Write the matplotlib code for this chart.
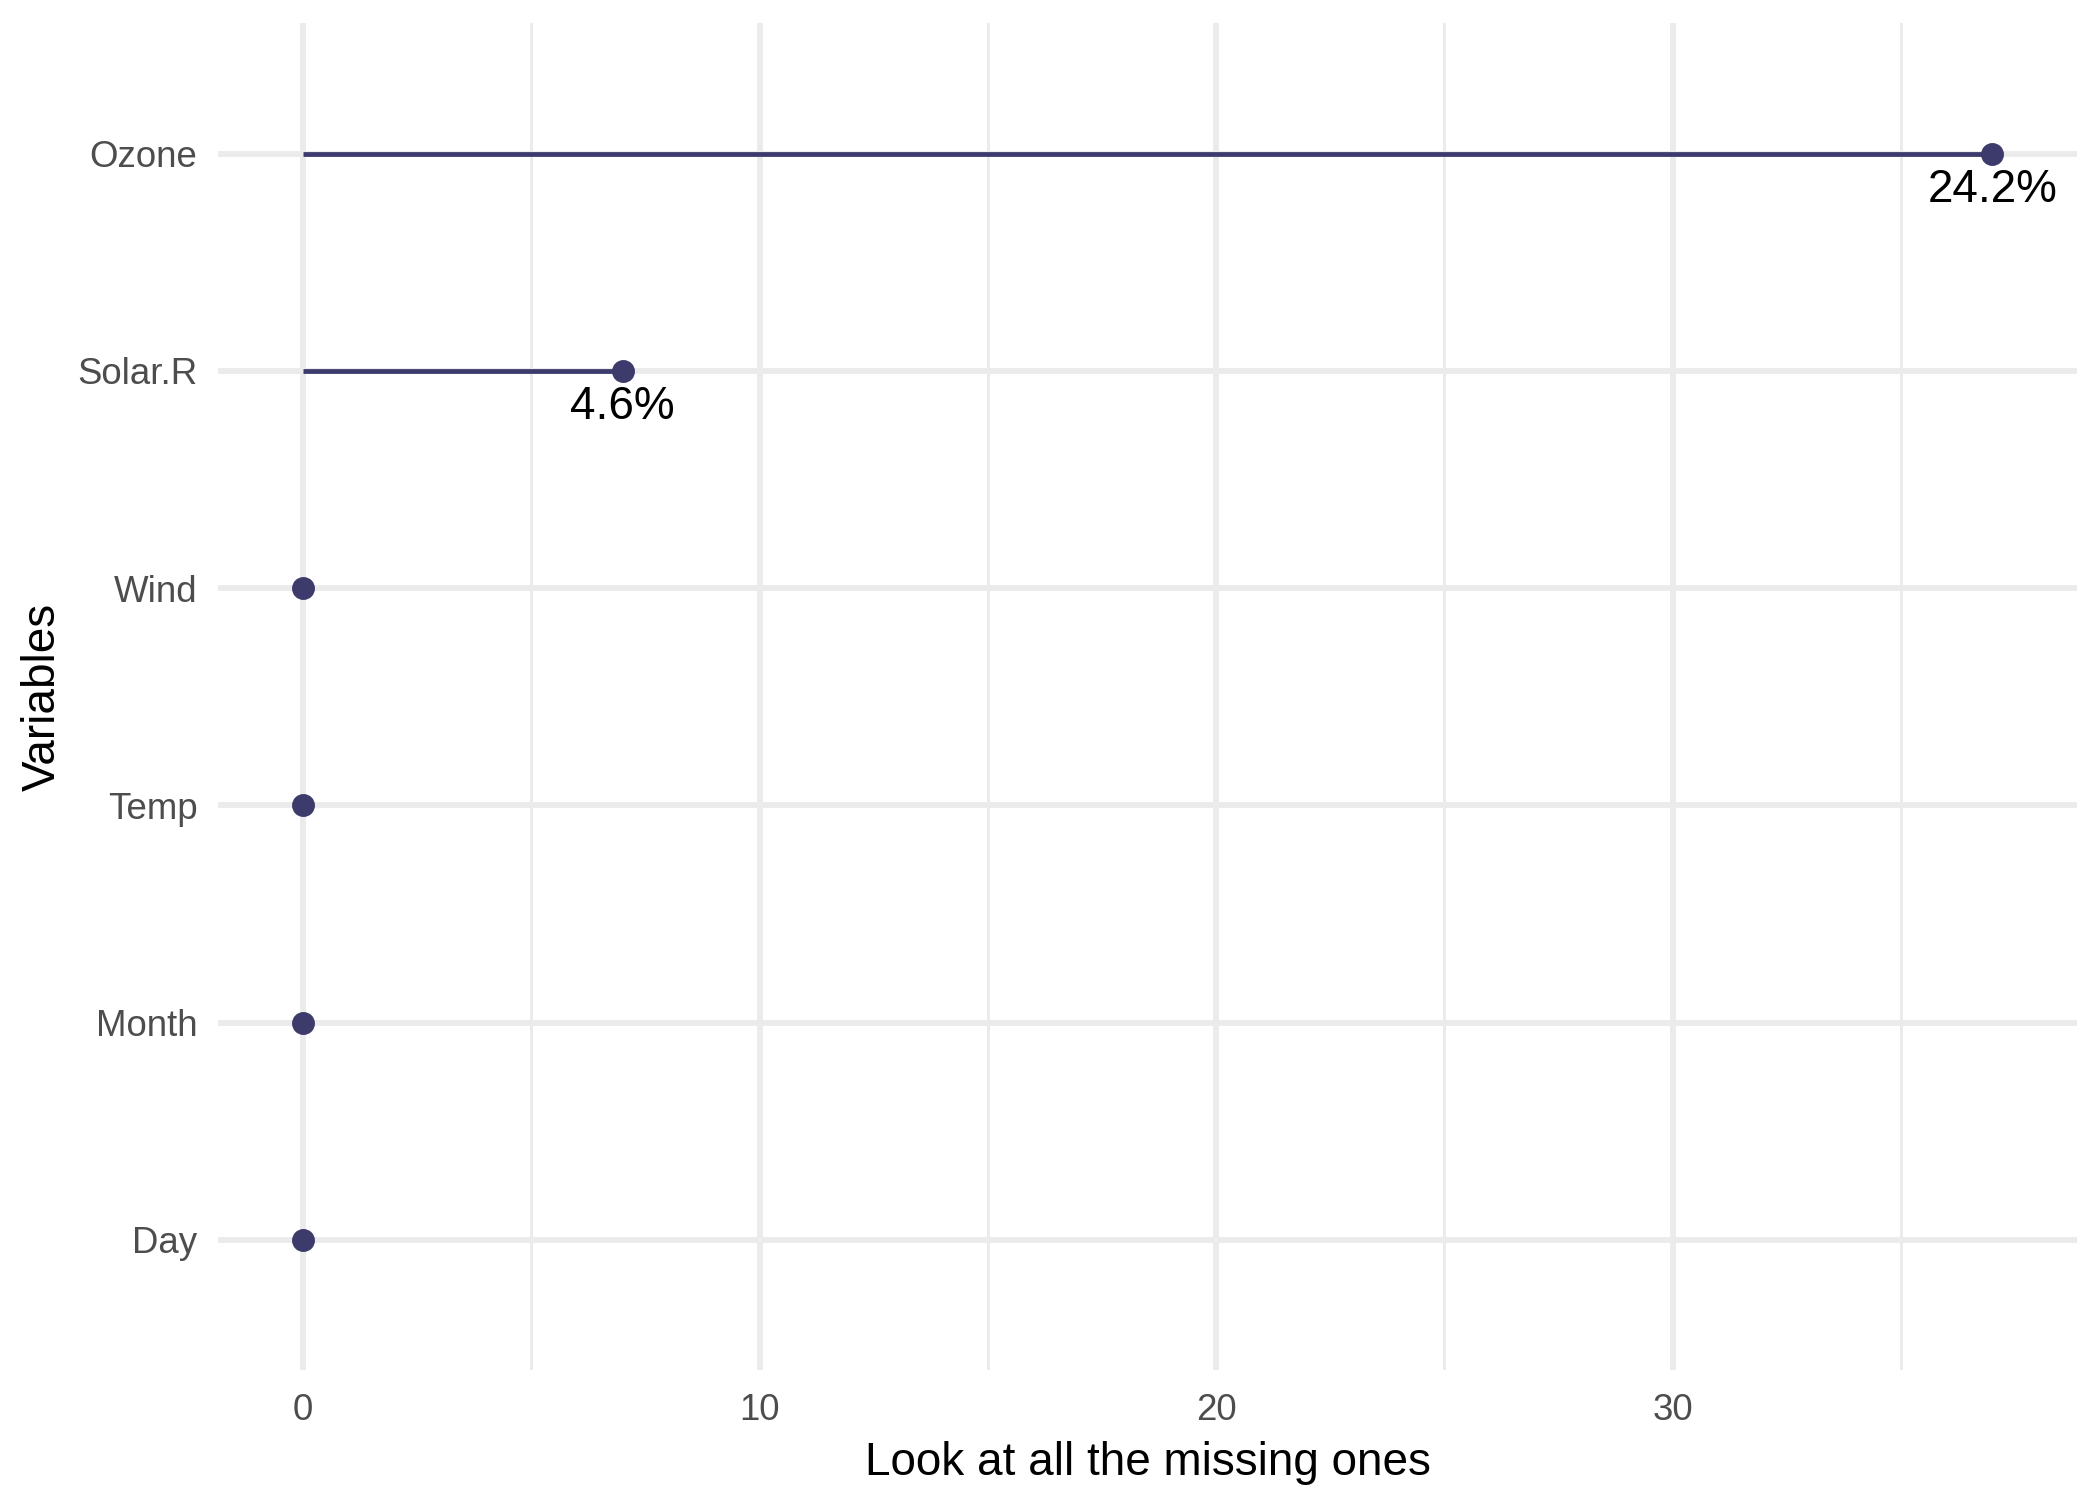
import numpy as np
import matplotlib.pyplot as plt

plt.rcParams['font.family'] = ['Liberation Sans', 'DejaVu Sans']

# missing values per variable (airquality)
variables = ["Ozone", "Solar.R", "Wind", "Temp", "Month", "Day"]
n_miss = [37, 7, 0, 0, 0, 0]
pct_miss = [24.2, 4.6, 0.0, 0.0, 0.0, 0.0]

navy = "#3d3b6c"
grid = "#ebebeb"

fig = plt.figure(figsize=(7, 5), dpi=300)
ax = fig.add_axes([0.104, 0.0865, 0.885, 0.898])

y = np.arange(len(variables))[::-1] + 1

ax.hlines(y, 0, n_miss, color=navy, linewidth=1.15, zorder=3)
ax.plot(n_miss, y, 'o', color=navy, markersize=4.5, zorder=4)

for xv, yv, p in zip(n_miss, y, pct_miss):
    if p > 0:
        ax.annotate(f"{p}%", (xv, yv), xytext=(0, -3.5), textcoords='offset points',
                    ha='center', va='top', fontsize=11, color='black', zorder=5)

ax.set_xlim(-1.85, 38.85)
ax.set_ylim(0.4, len(variables) + 0.6)

ax.set_xticks([0, 10, 20, 30])
ax.set_xticks([5, 15, 25, 35], minor=True)
ax.set_yticks(y)
ax.set_yticklabels(variables)

ax.grid(True, which='major', color=grid, linewidth=1.4, zorder=0)
ax.grid(True, which='minor', axis='x', color=grid, linewidth=0.7, zorder=0)
ax.set_axisbelow(True)

for s in ax.spines.values():
    s.set_visible(False)
ax.tick_params(which='both', length=0)
ax.tick_params(axis='y', pad=5.0, labelsize=8.8, labelcolor='#4d4d4d')
ax.tick_params(axis='x', pad=5.5, labelsize=8.8, labelcolor='#4d4d4d')

ax.set_xlabel("Look at all the missing ones", fontsize=11, color='black', labelpad=3)
ax.set_ylabel("Variables", fontsize=11, color='black', labelpad=3)

fig.savefig("out.png", dpi=300)
